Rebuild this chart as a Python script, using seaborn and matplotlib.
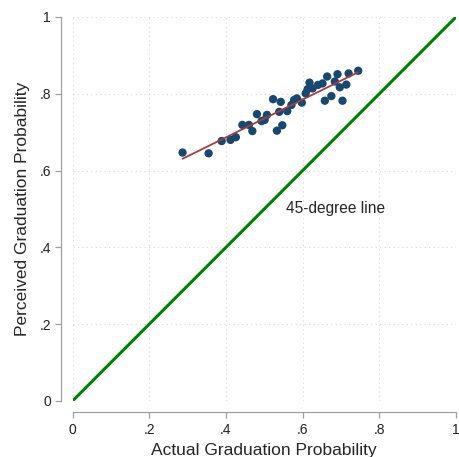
import matplotlib
matplotlib.use("Agg")
import matplotlib.pyplot as plt
import seaborn as sns
import numpy as np
import pandas as pd

actual = [0.287, 0.355, 0.389, 0.412, 0.426, 0.443, 0.460, 0.469, 0.481, 0.493,
          0.501, 0.507, 0.523, 0.533, 0.547, 0.543, 0.539, 0.560, 0.571, 0.578,
          0.585, 0.598, 0.608, 0.613, 0.618, 0.626, 0.640, 0.652, 0.658, 0.664,
          0.675, 0.684, 0.691, 0.697, 0.704, 0.714, 0.720, 0.745]
perceived = [0.647, 0.645, 0.677, 0.680, 0.687, 0.719, 0.719, 0.703, 0.747, 0.729,
             0.732, 0.745, 0.786, 0.704, 0.718, 0.779, 0.753, 0.755, 0.771, 0.784,
             0.788, 0.777, 0.801, 0.812, 0.829, 0.814, 0.823, 0.827, 0.782, 0.845,
             0.794, 0.832, 0.851, 0.817, 0.782, 0.824, 0.853, 0.860]
diag_x = [0, 1]
diag_y = [0, 1]
tick_vals = [0, 0.2, 0.4, 0.6, 0.8, 1]
tick_labels = ["0", ".2", ".4", ".6", ".8", "1"]

df = pd.DataFrame({"actual": actual, "perceived": perceived})

sns.set_style("white")
plt.rcParams["font.family"] = ["Liberation Sans", "DejaVu Sans"]

fig = plt.figure(figsize=(4.59, 4.57), dpi=100)
ax = fig.add_axes([72.5 / 459, 56 / 457, 383.5 / 459, 384 / 457])

sns.lineplot(x=diag_x, y=diag_y, ax=ax, color="#008000", linewidth=2.2, zorder=3)
sns.regplot(data=df, x="actual", y="perceived", ax=ax, ci=None,
            scatter_kws=dict(s=36, color="#1a476f", edgecolor="none", alpha=1, zorder=4),
            line_kws=dict(color="#a0403c", linewidth=1.3, zorder=5))

ax.text(0.556, 0.5, "45-degree line", fontsize=11.2, ha="left", va="center")

ax.set_xlim(0, 1)
ax.set_ylim(0, 1)
ax.set_xticks(tick_vals)
ax.set_xticklabels(tick_labels)
ax.set_yticks(tick_vals)
ax.set_yticklabels(tick_labels)
ax.grid(True, linestyle=(0, (1, 3)), color="#d9d9d9", linewidth=0.8)
ax.set_axisbelow(True)

for s in ["top", "right"]:
    ax.spines[s].set_visible(False)
for s in ["left", "bottom"]:
    ax.spines[s].set_position(("outward", 8))
    ax.spines[s].set_color("#a0a0a0")
    ax.spines[s].set_linewidth(0.9)
    ax.spines[s].set_bounds(0, 1)
ax.tick_params(axis="both", length=4.5, width=0.9, color="#a0a0a0",
               labelsize=10, labelcolor="#222222", pad=3, direction="out",
               bottom=True, left=True)

ax.set_xlabel("Actual Graduation Probability", fontsize=12.5, labelpad=5)
ax.set_ylabel("Perceived Graduation Probability", fontsize=12.5, labelpad=7)

fig.savefig("out.png", dpi=100)
